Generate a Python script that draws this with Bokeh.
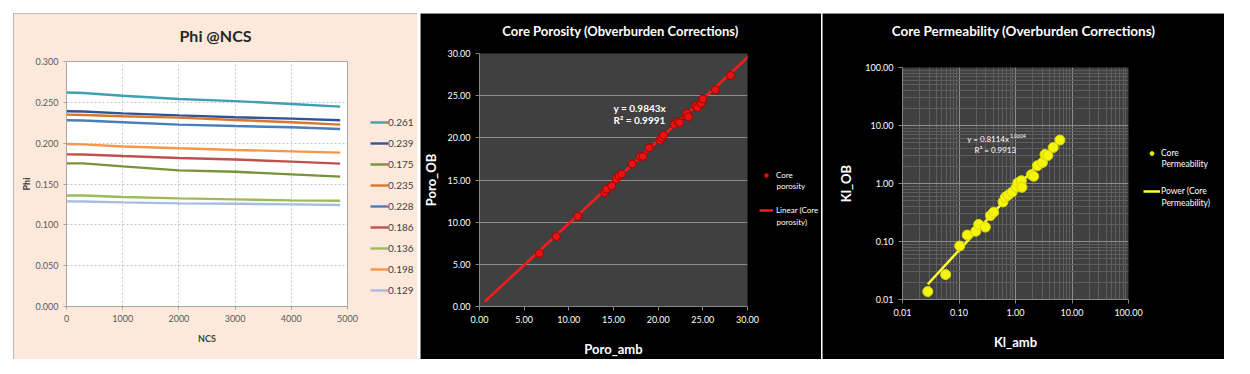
import numpy as np
from bokeh.plotting import figure
from bokeh.models import Legend, LegendItem, FixedTicker, PrintfTickFormatter, Label
from bokeh.embed import file_html
from bokeh.resources import INLINE

FONT = "Lato"
H = 346

# ---------------- Panel 1 data: Phi @NCS ----------------
ncs = [0, 300, 1000, 2000, 3000, 4000, 4870]
phi_labels = ["0.261", "0.239", "0.175", "0.235", "0.228", "0.186", "0.136", "0.198", "0.129"]
phi_261 = [0.2620, 0.2615, 0.2580, 0.2540, 0.2515, 0.2480, 0.2448]
phi_239 = [0.2390, 0.2388, 0.2365, 0.2340, 0.2317, 0.2300, 0.2280]
phi_175 = [0.1753, 0.1752, 0.1716, 0.1667, 0.1650, 0.1618, 0.1590]
phi_235 = [0.2350, 0.2345, 0.2330, 0.2313, 0.2284, 0.2256, 0.2227]
phi_228 = [0.2280, 0.2277, 0.2256, 0.2227, 0.2210, 0.2195, 0.2174]
phi_186 = [0.1863, 0.1862, 0.1843, 0.1819, 0.1800, 0.1774, 0.1749]
phi_136 = [0.1360, 0.1360, 0.1340, 0.1324, 0.1312, 0.1300, 0.1295]
phi_198 = [0.1990, 0.1985, 0.1960, 0.1937, 0.1917, 0.1900, 0.1884]
phi_129 = [0.1287, 0.1285, 0.1275, 0.1263, 0.1259, 0.1250, 0.1242]
phi_series = [phi_261, phi_239, phi_175, phi_235, phi_228, phi_186, phi_136, phi_198, phi_129]
phi_colors = ["#3f9fb3", "#2f5597", "#77933c", "#d9772f", "#4a7ebb", "#c0504d", "#9bbb59", "#f79646", "#a5bde0"]

# ---------------- Panel 2 data: Core porosity ----------------
poro_amb = [6.7, 8.6, 11.0, 14.0, 14.2, 14.8, 15.3, 15.6, 15.9, 17.1, 18.0, 18.3, 19.0,
            20.2, 20.4, 20.6, 21.8, 22.2, 22.4, 23.1, 23.2, 23.4, 24.2, 24.4, 24.8, 25.0, 26.4, 28.1]
poro_ob = [6.3, 8.3, 10.7, 13.5, 13.9, 14.3, 15.1, 15.5, 15.7, 16.9, 17.8, 17.8, 18.8,
           19.7, 20.0, 20.3, 21.6, 21.9, 21.8, 22.6, 22.9, 22.5, 23.8, 23.6, 24.1, 24.6, 25.7, 27.4]
poro_slope = 0.9843
poro_trend_x = [0.6, 30.2]

# ---------------- Panel 3 data: Core permeability ----------------
kl_amb = [0.028, 0.058, 0.103, 0.14, 0.198, 0.223, 0.293, 0.36, 0.41, 0.60, 0.66, 0.74,
          0.87, 1.04, 1.10, 1.27, 1.30, 1.91, 2.10, 2.44, 3.0, 3.33, 3.73, 4.66, 6.1]
kl_ob = [0.0137, 0.0269, 0.0838, 0.129, 0.150, 0.197, 0.177, 0.28, 0.32, 0.48, 0.58, 0.63,
         0.71, 0.87, 1.03, 1.12, 0.86, 1.42, 1.33, 2.03, 2.3, 3.17, 3.03, 4.17, 5.6]
kl_coef = 0.8114
kl_exp = 1.0604

NAN = np.array([np.nan])


def base_fig(width, height, **kw):
    return figure(width=width, height=height, output_backend="svg", toolbar_location=None, **kw)


def pos_style(left, extra=None):
    s = {"position": "absolute", "left": f"{left}px", "top": "13px"}
    if extra:
        s.update(extra)
    return s


def overlay_fig(width, left):
    """Transparent full-panel figure (pixel coordinates) holding title and legend."""
    f = base_fig(width, H, x_range=(0, width), y_range=(0, H),
                 x_axis_location=None, y_axis_location=None, title_location=None,
                 min_border_left=0, min_border_right=0, min_border_top=0, min_border_bottom=0)
    f.grid.visible = False
    f.border_fill_alpha = 0
    f.background_fill_alpha = 0
    f.outline_line_color = None
    f.styles = pos_style(left)
    return f


def title_label(f, x, y, text, size, color):
    f.add_layout(Label(x=x, y=y, text=text, text_font=FONT, text_font_size=size,
                       text_font_style="bold", text_color=color,
                       text_align="center", text_baseline="middle"))


# ================= Panel 1 =================
PEACH = "#fde9db"
p1 = base_fig(404, H, x_range=(0, 5000), y_range=(0, 0.3), title_location=None,
              min_border_left=53, min_border_right=70, min_border_top=48, min_border_bottom=53)
p1.styles = pos_style(13, {"outline": "2px solid #a8a8a8", "outline-offset": "-2px",
                           "background-color": PEACH})
p1.border_fill_color = PEACH
p1.background_fill_color = "white"
p1.outline_line_color = "#a6a6a6"

p1.xaxis.ticker = FixedTicker(ticks=[0, 1000, 2000, 3000, 4000, 5000])
p1.yaxis.ticker = FixedTicker(ticks=[0, 0.05, 0.1, 0.15, 0.2, 0.25, 0.3])
p1.yaxis.formatter = PrintfTickFormatter(format="%.3f")
p1.xaxis.formatter = PrintfTickFormatter(format="%d")
for ax in (p1.xaxis, p1.yaxis):
    ax.major_label_text_font = FONT
    ax.major_label_text_font_size = "9px"
    ax.major_label_text_color = "#595959"
    ax.axis_line_color = "#a6a6a6"
    ax.major_tick_line_color = "#a6a6a6"
    ax.major_tick_out = 3
    ax.major_tick_in = 0
    ax.minor_tick_line_color = None
    ax.axis_label_text_font = FONT
    ax.axis_label_text_font_style = "bold"
    ax.axis_label_text_font_size = "9px"
    ax.axis_label_text_color = "#404040"
p1.xaxis.axis_label = "NCS"
p1.yaxis.axis_label = "Phi"
p1.xaxis.axis_label_standoff = 8
p1.yaxis.axis_label_standoff = 0
p1.xgrid.grid_line_color = "#c8c8c8"
p1.ygrid.grid_line_color = "#c8c8c8"
p1.xgrid.grid_line_dash = "2 2"
p1.ygrid.grid_line_dash = "2 2"

for ys, col in zip(phi_series, phi_colors):
    p1.line(ncs, ys, line_color=col, line_width=2.4)

o1 = overlay_fig(404, 13)
title_label(o1, 202, H - 22, "Phi @NCS", "16px", "#262626")
items1 = []
for lab, col in zip(phi_labels, phi_colors):
    r = o1.line(x=NAN, y=NAN, line_color=col, line_width=2.4)
    items1.append(LegendItem(label=lab, renderers=[r]))
leg1 = Legend(items=items1, location=(357, 59), padding=0, margin=0, spacing=1,
              glyph_width=18, glyph_height=20, label_height=20, label_standoff=0,
              label_text_font=FONT, label_text_font_size="10px", label_text_color="#404040",
              background_fill_alpha=0, border_line_color=None)
o1.add_layout(leg1)

# ================= Panel 2 =================
p2 = base_fig(401, H, x_range=(0, 30), y_range=(0, 30), title_location=None,
              min_border_left=57, min_border_right=74, min_border_top=40, min_border_bottom=53)
p2.styles = pos_style(420, {"outline": "1px solid #bdbdbd", "outline-offset": "-1px",
                            "background-color": "black"})
p2.border_fill_color = "black"
p2.background_fill_color = "#404040"
p2.outline_line_color = None

ticks2 = [0, 5, 10, 15, 20, 25, 30]
for ax in (p2.xaxis, p2.yaxis):
    ax.ticker = FixedTicker(ticks=ticks2)
    ax.formatter = PrintfTickFormatter(format="%.2f")
    ax.major_label_text_font = FONT
    ax.major_label_text_font_size = "9px"
    ax.major_label_text_color = "white"
    ax.axis_line_color = "#868686"
    ax.major_tick_line_color = "#868686"
    ax.major_tick_out = 4
    ax.major_tick_in = 0
    ax.minor_tick_line_color = None
    ax.axis_label_text_font = FONT
    ax.axis_label_text_font_style = "bold"
    ax.axis_label_text_font_size = "13px"
    ax.axis_label_text_color = "white"
p2.xaxis.axis_label = "Poro_amb"
p2.yaxis.axis_label = "Poro_OB"
p2.xaxis.axis_label_standoff = 15
p2.yaxis.axis_label_standoff = 5
p2.xgrid.grid_line_color = None
p2.ygrid.grid_line_color = "#8c8c8c"

p2.line(poro_trend_x, [poro_slope * x for x in poro_trend_x], line_color="#ff1a1a", line_width=2.5)
p2.scatter(poro_amb, poro_ob, size=8, fill_color="#e81414", line_color="#a80000", line_width=1)
p2.add_layout(Label(x=15.0, y=23.5, text="y = 0.9843x", text_font=FONT, text_font_size="10px",
                    text_font_style="bold", text_color="white", text_baseline="middle"))
p2.add_layout(Label(x=15.0, y=22.1, text="R² = 0.9991", text_font=FONT, text_font_size="10px",
                    text_font_style="bold", text_color="white", text_baseline="middle"))

o2 = overlay_fig(401, 420)
title_label(o2, 200, H - 17, "Core Porosity (Obverburden Corrections)", "13px", "white")
ls2 = o2.line(x=NAN, y=NAN, line_color="#ff1a1a", line_width=2.5)
ss2 = o2.scatter(x=NAN, y=NAN, size=6, fill_color="#e81414", line_color="#a80000")
leg2 = Legend(items=[LegendItem(label="Core", renderers=[ss2]),
                     LegendItem(label="Linear (Core", renderers=[ls2])],
              location=(339, 144), padding=0, margin=0, spacing=25,
              glyph_width=14, glyph_height=10, label_height=10, label_standoff=3,
              label_text_font=FONT, label_text_font_size="8px", label_text_color="white",
              background_fill_alpha=0, border_line_color=None)
o2.add_layout(leg2)
for txt, yy in (("porosity", 174), ("porosity)", 138)):
    o2.add_layout(Label(x=356, y=yy, text=txt, text_font=FONT, text_font_size="8px",
                        text_color="white", text_baseline="middle"))

# ================= Panel 3 =================
p3 = base_fig(402, H, x_axis_type="log", y_axis_type="log", x_range=(0.01, 100), y_range=(0.01, 100),
              title_location=None,
              min_border_left=80, min_border_right=96, min_border_top=54, min_border_bottom=60)
p3.styles = pos_style(822, {"outline": "1px solid #bdbdbd", "outline-offset": "-1px",
                            "background-color": "black"})
p3.border_fill_color = "black"
p3.background_fill_color = "#404040"
p3.outline_line_color = None

decades = [0.01, 0.1, 1, 10, 100]
minor = [d * k for d in decades[:-1] for k in range(2, 10)]
for ax in (p3.xaxis, p3.yaxis):
    ax.ticker = FixedTicker(ticks=decades, minor_ticks=minor)
    ax.formatter = PrintfTickFormatter(format="%.2f")
    ax.major_label_text_font = FONT
    ax.major_label_text_font_size = "9px"
    ax.major_label_text_color = "white"
    ax.axis_line_color = "#868686"
    ax.major_tick_line_color = "#868686"
    ax.major_tick_out = 4
    ax.major_tick_in = 0
    ax.minor_tick_line_color = None
    ax.axis_label_text_font = FONT
    ax.axis_label_text_font_style = "bold"
    ax.axis_label_text_font_size = "13px"
    ax.axis_label_text_color = "white"
p3.xaxis.axis_label = "Kl_amb"
p3.yaxis.axis_label = "Kl_OB"
p3.xaxis.axis_label_standoff = 15
p3.yaxis.axis_label_standoff = 8
for g in (p3.xgrid, p3.ygrid):
    g.grid_line_color = "#8c8c8c"
    g.minor_grid_line_color = "#5e5e5e"

kx = [min(kl_amb), max(kl_amb)]
p3.line(kx, [kl_coef * x ** kl_exp for x in kx], line_color="#ffff33", line_width=2.5)
p3.scatter(kl_amb, kl_ob, size=10, fill_color="#f5f50a", line_color="#d8d800", line_width=1)
p3.add_layout(Label(x=0.140, y=5.78, text="y = 0.8114x", text_font=FONT, text_font_size="8px",
                    text_color="white", text_baseline="middle"))
p3.add_layout(Label(x=0.140, y=5.78, x_offset=43, y_offset=3, text="1.0604", text_font=FONT,
                    text_font_size="5px", text_color="white", text_baseline="middle"))
p3.add_layout(Label(x=0.189, y=3.85, text="R² = 0.9913", text_font=FONT, text_font_size="8px",
                    text_color="white", text_baseline="middle"))

o3 = overlay_fig(402, 822)
title_label(o3, 201, H - 17, "Core Permeability (Overburden Corrections)", "13.5px", "white")
ls3 = o3.line(x=NAN, y=NAN, line_color="#ffff33", line_width=2.5)
ss3 = o3.scatter(x=NAN, y=NAN, size=6, fill_color="#f5f50a", line_color="#d8d800")
leg3 = Legend(items=[LegendItem(label="Core", renderers=[ss3]),
                     LegendItem(label="Power (Core", renderers=[ls3])],
              location=(321, 163), padding=0, margin=0, spacing=28,
              glyph_width=17, glyph_height=10, label_height=10, label_standoff=1,
              label_text_font=FONT, label_text_font_size="8.5px", label_text_color="white",
              background_fill_alpha=0, border_line_color=None)
o3.add_layout(leg3)
for txt, yy in (("Permeability", 196), ("Permeability)", 157)):
    o3.add_layout(Label(x=339, y=yy, text=txt, text_font=FONT, text_font_size="8.5px",
                        text_color="white", text_baseline="middle"))

open("out.html", "w").write(file_html([p1, o1, p2, o2, p3, o3], INLINE))
